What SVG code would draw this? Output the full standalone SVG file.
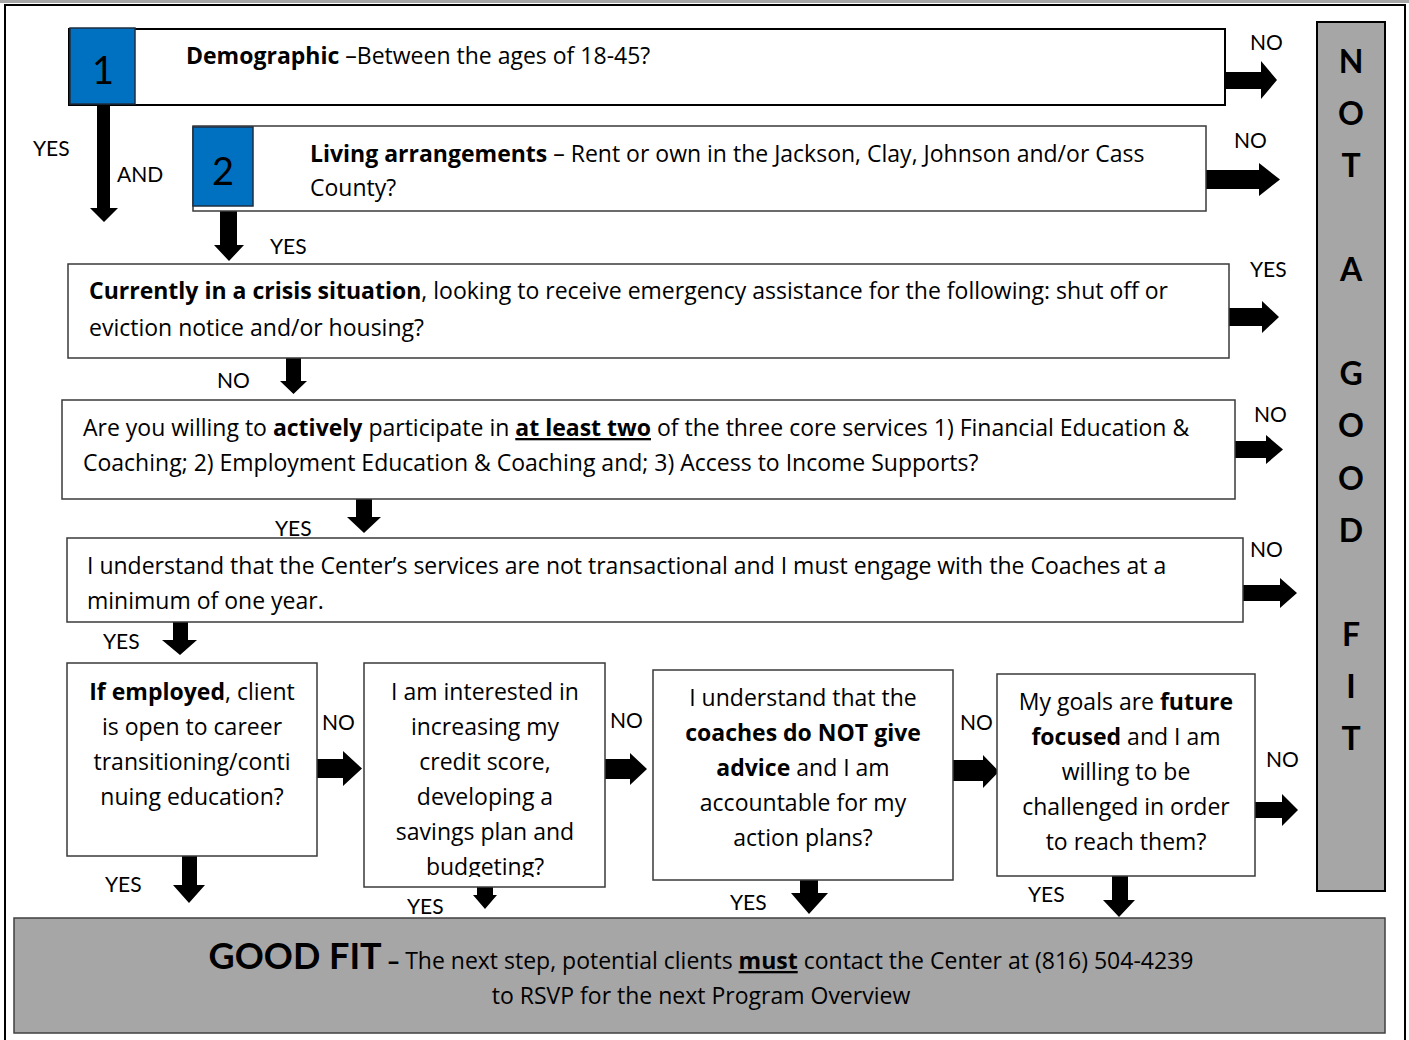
<svg xmlns="http://www.w3.org/2000/svg" width="1409" height="1040" viewBox="0 0 1409 1040">
<defs>
<style>
text{font-family:"Open Sans","Noto Sans","Liberation Sans",sans-serif;fill:#000}
.t{font-size:23px}
.lbl{font-size:21px;font-family:Lato,"Liberation Sans",sans-serif}
.c{text-anchor:middle}
.b{font-weight:bold}
.box{fill:#fff;stroke:#3a3a3a;stroke-width:1.5}
.blue{fill:#0070c0;stroke:#1e2e40;stroke-width:1.5}
.num{font-size:38px;text-anchor:middle;font-family:Lato,"Liberation Sans",sans-serif}
.gray{fill:#a6a6a6;stroke:#000;stroke-width:2}
.ngf{font-size:32px;font-weight:bold;text-anchor:middle;font-family:Lato,"Liberation Sans",sans-serif}
.arr{fill:#000}
</style>
<clipPath id="clip7"><rect x="364" y="663" width="241" height="214"/></clipPath>
</defs>
<rect x="0" y="0" width="1409" height="1040" fill="#fff"/>
<rect x="0" y="0" width="1409" height="3" fill="#a6a6a6"/>
<rect x="5" y="5" width="1400" height="1045" fill="none" stroke="#000" stroke-width="2"/>

<g id="connectors">
<polygon class="arr" points="97,105 110,105 110,208 118,208 104,222 90,208 97,208"/>
<polygon class="arr" points="220,211 237,211 237,245 244,245 229,261 214,245 220,245"/>
<polygon class="arr" points="286,358 301,358 301,381 307,381 293.5,394 280,381 286,381"/>
<polygon class="arr" points="356,499 372,499 372,517 381,517 364,533 347,517 356,517"/>
<polygon class="arr" points="173,622 188,622 188,640 197,640 180,655 162,640 173,640"/>
<polygon class="arr" points="182,856 197,856 197,885 205,885 189,903 173,885 182,885"/>
<polygon class="arr" points="477,887 493,887 493,895 497,895 485,909 473,895 477,895"/>
<polygon class="arr" points="800,880 818,880 818,893 828,893 809,914 791,893 800,893"/>
<polygon class="arr" points="1112,876 1128,876 1128,900 1135,900 1119,917 1103,900 1112,900"/>
<polygon class="arr" points="1225,72 1261,72 1261,61 1277,80 1261,99 1261,89 1225,89"/>
<polygon class="arr" points="1206,170 1259,170 1259,163 1280,179.5 1259,196 1259,189 1206,189"/>
<polygon class="arr" points="1229,308 1262,308 1262,301 1279,317 1262,333 1262,326 1229,326"/>
<polygon class="arr" points="1235,441 1266,441 1266,435 1283,449.5 1266,464 1266,458 1235,458"/>
<polygon class="arr" points="1243,585 1280,585 1280,578 1297,593 1280,608 1280,601 1243,601"/>
<polygon class="arr" points="317,759 343,759 343,751 362,768.5 343,786 343,778 317,778"/>
<polygon class="arr" points="605,759 630,759 630,753 647,769 630,785 630,779 605,779"/>
<polygon class="arr" points="953,760 983,760 983,755 999,771.5 983,788 983,781 953,781"/>
<polygon class="arr" points="1255,802 1282,802 1282,794 1298,810 1282,826 1282,818 1255,818"/>
<text class="lbl" x="1250" y="50">NO</text>
<text class="lbl" x="33" y="156">YES</text>
<text class="lbl" x="117" y="182">AND</text>
<text class="lbl" x="1234" y="148">NO</text>
<text class="lbl" x="270" y="254">YES</text>
<text class="lbl" x="1250" y="277">YES</text>
<text class="lbl" x="217" y="388">NO</text>
<text class="lbl" x="1254" y="422">NO</text>
<text class="lbl" x="275" y="536">YES</text>
<text class="lbl" x="1250" y="557">NO</text>
<text class="lbl" x="103" y="649">YES</text>
<text class="lbl" x="322" y="730">NO</text>
<text class="lbl" x="610" y="728">NO</text>
<text class="lbl" x="960" y="730">NO</text>
<text class="lbl" x="1266" y="767">NO</text>
<text class="lbl" x="105" y="892">YES</text>
<text class="lbl" x="407" y="914">YES</text>
<text class="lbl" x="730" y="910">YES</text>
<text class="lbl" x="1028" y="902">YES</text>
</g>

<g id="node-demographic">
<rect x="69" y="29" width="1156" height="76" fill="#fff" stroke="#000" stroke-width="2"/>
<rect class="blue" x="70" y="28" width="65" height="76"/>
<text class="num" x="103" y="84">1</text>
<text class="t" x="186" y="64"><tspan class="b">Demographic</tspan> –Between the ages of 18-45?</text>
</g>

<g id="node-living">
<rect class="box" x="193" y="126" width="1013" height="85"/>
<rect class="blue" x="193" y="127" width="60" height="79"/>
<text class="num" x="223" y="185">2</text>
<text class="t" x="310" y="162"><tspan class="b">Living arrangements</tspan> – Rent or own in the Jackson, Clay, Johnson and/or Cass</text>
<text class="t" x="310" y="196">County?</text>
</g>

<g id="node-crisis">
<rect class="box" x="68" y="264" width="1161" height="94"/>
<text class="t" x="89" y="299"><tspan class="b">Currently in a crisis situation</tspan>, looking to receive emergency assistance for the following: shut off or</text>
<text class="t" x="89" y="336">eviction notice and/or housing?</text>
</g>

<g id="node-participate">
<rect class="box" x="62" y="400" width="1173" height="99"/>
<text class="t" x="83" y="436">Are you willing to <tspan class="b">actively</tspan> participate in <tspan class="b" text-decoration="underline">at least two</tspan> of the three core services 1) Financial Education &amp;</text>
<text class="t" x="83" y="471">Coaching; 2) Employment Education &amp; Coaching and; 3) Access to Income Supports?</text>
</g>

<g id="node-understand">
<rect class="box" x="67" y="538" width="1176" height="84"/>
<text class="t" x="87" y="574">I understand that the Center’s services are not transactional and I must engage with the Coaches at a</text>
<text class="t" x="87" y="609">minimum of one year.</text>
</g>

<g id="node-employed">
<rect class="box" x="67" y="663" width="250" height="193"/>
<text class="t c" x="192" y="700"><tspan class="b">If employed</tspan>, client</text>
<text class="t c" x="192" y="735">is open to career</text>
<text class="t c" x="192" y="770">transitioning/conti</text>
<text class="t c" x="192" y="805">nuing education?</text>
</g>

<g id="node-credit">
<rect class="box" x="364" y="663" width="241" height="224"/>
<g clip-path="url(#clip7)">
<text class="t c" x="485" y="700">I am interested in</text>
<text class="t c" x="485" y="735">increasing my</text>
<text class="t c" x="485" y="770">credit score,</text>
<text class="t c" x="485" y="805">developing a</text>
<text class="t c" x="485" y="840">savings plan and</text>
<text class="t c" x="485" y="875">budgeting?</text>
</g>
</g>

<g id="node-advice">
<rect class="box" x="653" y="670" width="300" height="210"/>
<text class="t c" x="803" y="706">I understand that the</text>
<text class="t c b" x="803" y="741">coaches do NOT give</text>
<text class="t c" x="803" y="776"><tspan class="b">advice</tspan> and I am</text>
<text class="t c" x="803" y="811">accountable for my</text>
<text class="t c" x="803" y="846">action plans?</text>
</g>

<g id="node-goals">
<rect class="box" x="997" y="674" width="258" height="202"/>
<text class="t c" x="1126" y="710">My goals are <tspan class="b">future</tspan></text>
<text class="t c" x="1126" y="745"><tspan class="b">focused</tspan> and I am</text>
<text class="t c" x="1126" y="780">willing to be</text>
<text class="t c" x="1126" y="815">challenged in order</text>
<text class="t c" x="1126" y="850">to reach them?</text>
</g>

<g id="node-not-good-fit">
<rect class="gray" x="1317" y="22" width="68" height="869"/>
<text class="ngf" x="1351" y="73">N</text>
<text class="ngf" x="1351" y="125">O</text>
<text class="ngf" x="1351" y="177">T</text>
<text class="ngf" x="1351" y="281">A</text>
<text class="ngf" x="1351" y="385">G</text>
<text class="ngf" x="1351" y="437">O</text>
<text class="ngf" x="1351" y="490">O</text>
<text class="ngf" x="1351" y="542">D</text>
<text class="ngf" x="1351" y="646">F</text>
<text class="ngf" x="1351" y="698">I</text>
<text class="ngf" x="1351" y="750">T</text>
</g>

<g id="node-good-fit">
<rect x="14" y="918" width="1371" height="115" fill="#a6a6a6" stroke="#404040" stroke-width="1.5"/>
<text class="c" x="701" y="969"><tspan class="b" font-size="36px" font-family="Lato, sans-serif">GOOD FIT</tspan><tspan class="b" font-size="23px"> –</tspan><tspan font-size="23px"> The next step, potential clients </tspan><tspan font-size="23px" class="b" text-decoration="underline">must</tspan><tspan font-size="23px"> contact the Center at (816) 504-4239</tspan></text>
<text class="c" font-size="23px" x="701" y="1004">to RSVP for the next Program Overview</text>
</g>
</svg>
